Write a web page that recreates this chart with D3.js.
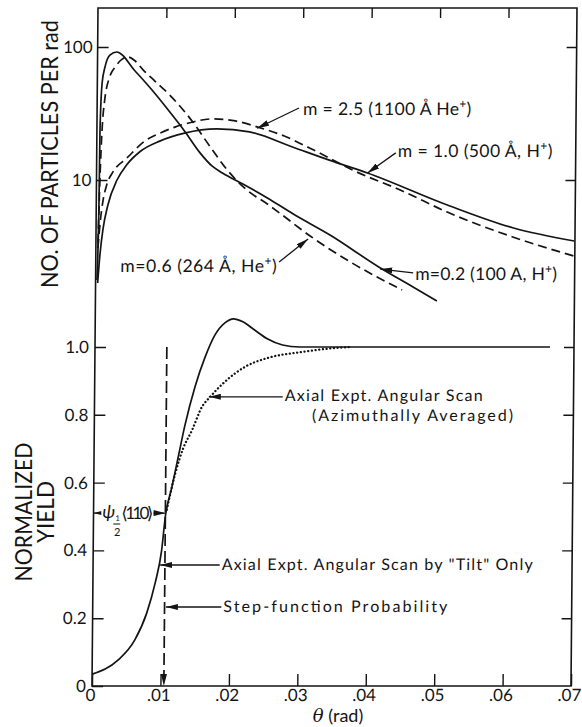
<!DOCTYPE html>
<html>
<head>
<meta charset="utf-8">
<script src="https://cdn.jsdelivr.net/npm/d3@7"></script>
<style>
body { margin: 0; background: #fff; }
text { font-family: Lato, "DejaVu Sans", sans-serif; fill: #141414; }
</style>
</head>
<body>
<div class="canvas"></div>
<script>
// top panel: particles per rad (log), theta in rad
const m02Theta = [0.0002, 0.0004, 0.00045, 0.0007, 0.0011, 0.0018, 0.0028, 0.0055, 0.0080, 0.0104, 0.0129, 0.0151, 0.0169, 0.0184, 0.0214, 0.0250, 0.0288, 0.0342, 0.0416, 0.0464, 0.0499];
const m02Value = [1.77, 7.1, 23.8, 53.6, 70.8, 87, 91.7, 66, 47.5, 33.6, 23.0, 16.0, 12.7, 11.3, 9.33, 7.33, 5.55, 3.86, 2.18, 1.57, 1.23];

const m06Theta = [0.0003, 0.0005, 0.00075, 0.0011, 0.0018, 0.0026, 0.0036, 0.0045, 0.0055, 0.0067, 0.0084, 0.0106, 0.0140, 0.0166, 0.0191, 0.0220, 0.0250, 0.0269, 0.0313, 0.0372, 0.0448];
const m06Value = [3.36, 10, 23.8, 40, 59.5, 70.8, 81, 84, 78.5, 67, 55.5, 43.5, 27.3, 17.7, 11.9, 8.4, 6.6, 5.6, 3.79, 2.42, 1.49];

const m10Theta = [0.0003, 0.0006, 0.0010, 0.0017, 0.0030, 0.0044, 0.0063, 0.0092, 0.0128, 0.0175, 0.0223, 0.0286, 0.0340, 0.0396, 0.0513, 0.0610, 0.0699];
const m10Value = [1.68, 2.73, 4.21, 6.49, 10, 13.0, 16.3, 19.6, 22.5, 24.2, 23.0, 17.7, 14.1, 11.3, 6.49, 4.36, 3.48];

const m25Theta = [0.0003, 0.0006, 0.0010, 0.0015, 0.0024, 0.0044, 0.0070, 0.0092, 0.0114, 0.0140, 0.0168, 0.0202, 0.0235, 0.0274, 0.0311, 0.0380, 0.0444, 0.0513, 0.0609, 0.0699];
const m25Value = [3.08, 4.83, 7.08, 9.17, 11.5, 14.6, 19.6, 22.5, 25.0, 27.3, 28.8, 27.8, 25.0, 21.4, 17.4, 11.5, 8.41, 5.74, 3.73, 2.68];

// bottom panel: normalized yield
const tiltTheta = [0, 0.0038, 0.0062, 0.0079, 0.0091, 0.0100, 0.0105, 0.0114, 0.0123, 0.0132, 0.0147, 0.0161, 0.0175, 0.0190, 0.0202, 0.0215, 0.0233, 0.0251, 0.0274, 0.0299, 0.0665];
const tiltYield = [0.035, 0.077, 0.136, 0.215, 0.304, 0.40, 0.50, 0.585, 0.675, 0.765, 0.885, 0.97, 1.035, 1.072, 1.083, 1.075, 1.050, 1.025, 1.006, 1.0, 1.0];

const avgTheta = [0.0107, 0.0119, 0.0130, 0.0143, 0.0157, 0.0169, 0.0190, 0.0219, 0.0253, 0.0302, 0.0351, 0.0375];
const avgYield = [0.52, 0.628, 0.70, 0.755, 0.823, 0.853, 0.897, 0.941, 0.968, 0.985, 0.997, 1.0];

const stepTheta = 0.0105;

const xTicks = [0, 0.01, 0.02, 0.03, 0.04, 0.05, 0.06, 0.07];
const logTicks = [10, 100];
const linTicks = [0, 0.2, 0.4, 0.6, 0.8, 1.0];

const zip = (a, b) => a.map((d, i) => [d, b[i]]);

const svg = d3.select('.canvas')
    .append('svg')
    .attr('width', 582)
    .attr('height', 727);

svg.append('marker')
    .attr('id', 'arrow')
    .attr('viewBox', '0 0 12 6')
    .attr('refX', 12)
    .attr('refY', 3)
    .attr('markerWidth', 12)
    .attr('markerHeight', 6)
    .attr('markerUnits', 'userSpaceOnUse')
    .attr('orient', 'auto-start-reverse')
    .append('path')
    .attr('d', 'M0,0L12,3L0,6Z')
    .attr('fill', '#141414');

const x = d3.scaleLinear().domain([0, 0.07]).range([92, 571]);
const yLog = d3.scaleLog().domain([1, 100]).range([313, 47]);
const yLin = d3.scaleLinear().domain([0, 1]).range([686, 347]);

// the scanned plate leans a little
const graph = svg.append('g')
    .attr('transform', 'translate(0,686) skewX(-0.507) translate(0,-686)');

graph.append('rect')
    .attr('x', x(0))
    .attr('y', 8)
    .attr('width', x(0.07) - x(0))
    .attr('height', 686 - 8)
    .attr('fill', 'none')
    .attr('stroke', '#141414')
    .attr('stroke-width', 1.6);

// axes
const fmtX = d => d === 0 ? '0' : d3.format('.2f')(d).replace(/^0/, '');
const fmtLin = d => d === 0 ? '0' : d.toFixed(1);

function styleAxis(g) {
    g.select('.domain').remove();
    g.selectAll('line').attr('stroke', '#141414').attr('stroke-width', 1.4);
    g.selectAll('text').attr('font-size', 17).attr('font-family', 'Lato, sans-serif').attr('fill', '#141414');
}

graph.append('g')
    .attr('transform', 'translate(0,686)')
    .call(d3.axisBottom(x).tickValues(xTicks).tickSize(-12).tickPadding(3).tickFormat(fmtX))
    .call(styleAxis)
    .selectAll('text').attr('dx', -2);

graph.append('g')
    .attr('transform', 'translate(0,8)')
    .call(d3.axisTop(x).tickValues(xTicks.slice(1, -1)).tickSize(-10).tickFormat(''))
    .call(styleAxis);

graph.append('g')
    .attr('transform', `translate(${x(0)},0)`)
    .call(d3.axisLeft(yLog).tickValues(logTicks).tickSize(-11).tickPadding(5).tickFormat(d3.format('d')))
    .call(styleAxis);

graph.append('g')
    .attr('transform', `translate(${x(0.07)},0)`)
    .call(d3.axisRight(yLog).tickValues(logTicks).tickSize(-10).tickFormat(''))
    .call(styleAxis);

graph.append('g')
    .attr('transform', `translate(${x(0)},0)`)
    .call(d3.axisLeft(yLin).tickValues(linTicks).tickSize(-11).tickPadding(6).tickFormat(fmtLin))
    .call(styleAxis);

graph.append('g')
    .attr('transform', `translate(${x(0.07)},0)`)
    .call(d3.axisRight(yLin).tickValues(linTicks.slice(1)).tickSize(-10).tickFormat(''))
    .call(styleAxis);

// curves
const lineLog = d3.line().x(d => x(d[0])).y(d => yLog(d[1])).curve(d3.curveMonotoneX);
const lineLin = d3.line().x(d => x(d[0])).y(d => yLin(d[1])).curve(d3.curveMonotoneX);

const topSeries = [
    { pts: zip(m02Theta, m02Value), dash: null },
    { pts: zip(m06Theta, m06Value), dash: '9,5' },
    { pts: zip(m10Theta, m10Value), dash: null },
    { pts: zip(m25Theta, m25Value), dash: '9,5' }
];

graph.selectAll('path.top')
    .data(topSeries)
    .enter()
    .append('path')
    .attr('class', 'top')
    .attr('d', d => lineLog(d.pts))
    .attr('fill', 'none')
    .attr('stroke', '#141414')
    .attr('stroke-width', 1.7)
    .attr('stroke-dasharray', d => d.dash);

graph.append('path')
    .attr('d', lineLin(zip(tiltTheta, tiltYield)))
    .attr('fill', 'none')
    .attr('stroke', '#141414')
    .attr('stroke-width', 1.7);

graph.append('path')
    .attr('d', lineLin(zip(avgTheta, avgYield)))
    .attr('fill', 'none')
    .attr('stroke', '#141414')
    .attr('stroke-width', 2.3)
    .attr('stroke-linecap', 'round')
    .attr('stroke-dasharray', '0.1,3.6');

graph.append('line')
    .attr('x1', x(stepTheta)).attr('y1', yLin(1))
    .attr('x2', x(stepTheta)).attr('y2', yLin(0))
    .attr('stroke', '#141414')
    .attr('stroke-width', 1.7)
    .attr('stroke-dasharray', '12,5')
    .attr('marker-end', 'url(#arrow)');

// annotations: text anchor, arrow tail, arrow tip
const topNotes = [
    { t: [0.0301, 30.8], a: [0.0295, 34.8], b: [0.0234, 24.5], len: 169, label: ['m = 2.5 (1100 Å  He', '+', ')'] },
    { t: [0.0440, 14.9], a: [0.0437, 16.0], b: [0.0396, 11.3], len: 155, label: ['m = 1.0 (500 Å, H', '+', ')'] },
    { t: [0.0467, 1.77], a: [0.0464, 2.0], b: [0.0416, 2.14], len: 142, label: ['m=0.2 (100 A, H', '+', ')'] },
    { t: [0.0036, 2.03], a: [0.0268, 2.42], b: [0.0310, 3.6], len: 157, label: ['m=0.6 (264 Å, He', '+', ')'] }
];

topNotes.forEach(n => {
    graph.append('line')
        .attr('x1', x(n.a[0])).attr('y1', yLog(n.a[1]))
        .attr('x2', x(n.b[0])).attr('y2', yLog(n.b[1]))
        .attr('stroke', '#141414').attr('stroke-width', 1.3)
        .attr('marker-end', 'url(#arrow)');
    const t = graph.append('text')
        .attr('x', x(n.t[0])).attr('y', yLog(n.t[1]))
        .attr('font-size', 17.5);
    t.append('tspan').text(n.label[0]);
    t.append('tspan').attr('dy', -7).attr('font-size', 12).text(n.label[1]);
    t.append('tspan').attr('dy', 7).text(n.label[2]);
    // stretch letter spacing to the lettered width
    const w = t.node().getComputedTextLength();
    const chars = n.label.join('').length;
    t.attr('letter-spacing', Math.max(0, (n.len - w) / chars));
});

const botNotes = [
    { t: [0.0278, 0.841], a: [0.0275, 0.853], b: [0.0167, 0.853], len: 198, label: 'Axial Expt. Angular Scan' },
    { t: [0.0318, 0.782], a: null, b: null, len: 201, label: '(Azimuthally Averaged)' },
    { t: [0.0188, 0.342], a: [0.0185, 0.357], b: [0.0098, 0.357], len: 311, label: 'Axial Expt. Angular Scan by "Tilt" Only' },
    { t: [0.0191, 0.218], a: [0.0188, 0.233], b: [0.0107, 0.233], len: 224, label: 'Step-function Probability' }
];

botNotes.forEach(n => {
    if (n.a) {
        graph.append('line')
            .attr('x1', x(n.a[0])).attr('y1', yLin(n.a[1]))
            .attr('x2', x(n.b[0])).attr('y2', yLin(n.b[1]))
            .attr('stroke', '#141414').attr('stroke-width', 1.3)
            .attr('marker-end', 'url(#arrow)');
    }
    graph.append('text')
        .attr('x', x(n.t[0])).attr('y', yLin(n.t[1]))
        .attr('font-size', 16)
        .attr('textLength', n.len)
        .attr('lengthAdjust', 'spacing')
        .text(n.label);
});

// psi 1/2 <110>
graph.append('line')
    .attr('x1', x(0)).attr('y1', yLin(0.51))
    .attr('x2', x(stepTheta)).attr('y2', yLin(0.51))
    .attr('stroke', '#141414').attr('stroke-width', 1.2)
    .attr('marker-start', 'url(#arrow)')
    .attr('marker-end', 'url(#arrow)');

const psi = graph.append('g')
    .attr('transform', `translate(${x(0.0007)},${yLin(0.51)})`);
psi.append('rect').attr('x', 3).attr('y', -11).attr('width', 52).attr('height', 18).attr('fill', '#fff');
psi.append('text').attr('x', 4).attr('y', 5).attr('font-size', 18).attr('font-style', 'italic').text('ψ');
psi.append('text').attr('x', 17).attr('y', 8).attr('font-size', 8).text('1');
psi.append('line').attr('x1', 15).attr('x2', 22).attr('y1', 11).attr('y2', 11).attr('stroke', '#141414').attr('stroke-width', 1);
psi.append('text').attr('x', 16).attr('y', 23).attr('font-size', 11).text('2');
psi.append('text').attr('x', 23).attr('y', 6).attr('font-size', 17).attr('textLength', 32).text('⟨110⟩');

// axis titles, squeezed to the narrow lettering of the plate
function sideTitle(label, cx, cy, size, len) {
    const t = svg.append('text')
        .attr('text-anchor', 'middle')
        .attr('font-size', size)
        .text(label);
    const w = t.node().getComputedTextLength();
    t.attr('transform', `translate(${cx},${cy}) rotate(-90) scale(${len / w},1)`);
}

sideTitle('NO. OF PARTICLES PER rad', 58, 154, 24, 268);
sideTitle('NORMALIZED', 32, 512, 24, 139);
sideTitle('YIELD', 54, 512, 24, 62);

const xt = svg.append('text')
    .attr('x', 338)
    .attr('y', 722)
    .attr('text-anchor', 'middle')
    .attr('font-size', 18);
xt.append('tspan').attr('font-style', 'italic').attr('font-family', '"DejaVu Serif", serif').text('θ');
xt.append('tspan').text(' (rad)');
</script>
</body>
</html>
